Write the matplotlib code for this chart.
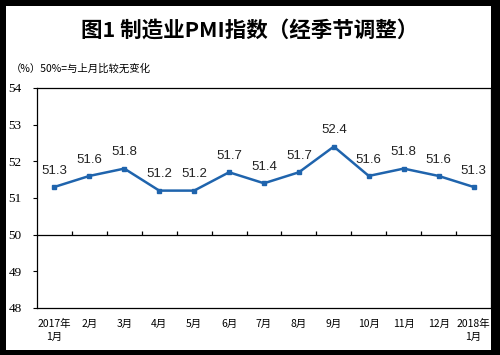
import matplotlib.pyplot as plt
from matplotlib.patches import Rectangle

# PMI data, Jan 2017 - Jan 2018
months = ['2017年\n1月', '2月', '3月', '4月', '5月', '6月', '7月', '8月',
          '9月', '10月', '11月', '12月', '2018年\n1月']
pmi = [51.3, 51.6, 51.8, 51.2, 51.2, 51.7, 51.4, 51.7, 52.4, 51.6, 51.8, 51.6, 51.3]
y_ticks = [48, 49, 50, 51, 52, 53, 54]

plt.rcParams['font.family'] = ['Noto Sans CJK SC', 'DejaVu Sans']

fig = plt.figure(figsize=(5, 3.55), dpi=100, facecolor='black')
# white panel inside black frame
fig.patches.append(Rectangle((0.012, 0.014), 0.97, 0.969, transform=fig.transFigure,
                             facecolor='white', edgecolor='none', zorder=-10))

ax = fig.add_axes([0.074, 0.1324, 0.908, 0.620])
x = [i + 0.5 for i in range(len(pmi))]

ax.plot(x, pmi, color='#1f64ad', linewidth=1.8, marker='s', markersize=3, zorder=3)
for xi, v in zip(x, pmi):
    ax.annotate(f'{v}', (xi, v), xytext=(0, 7.5), textcoords='offset points',
                ha='center', va='bottom', fontsize=9.5, family='Liberation Sans',
                color='#222222')

# 50 line with category boundary ticks
ax.axhline(50, color='black', linewidth=0.9, zorder=2)
ax.vlines(range(1, len(pmi)), 50, 50.09, color='black', linewidth=0.9)

ax.set_xlim(0, len(pmi))
ax.set_ylim(48, 54)
ax.set_xticks(x)
ax.set_xticklabels(months, fontsize=7.5, linespacing=1.3)
ax.tick_params(axis='x', length=0, pad=8)
ax.set_yticks(y_ticks)
ax.set_yticklabels([str(t) for t in y_ticks], family='Liberation Serif', fontsize=9.5)
ax.tick_params(axis='y', direction='out', length=3, pad=8)
for s in ax.spines.values():
    s.set_linewidth(0.9)

fig.text(0.5, 0.915, '图1 制造业PMI指数（经季节调整）', ha='center', va='center',
         fontsize=15.5, fontweight='bold')
fig.text(0.022, 0.808, '（%）50%=与上月比较无变化', ha='left', va='center', fontsize=7.5)

fig.savefig('out.png', dpi=100, facecolor='black')
